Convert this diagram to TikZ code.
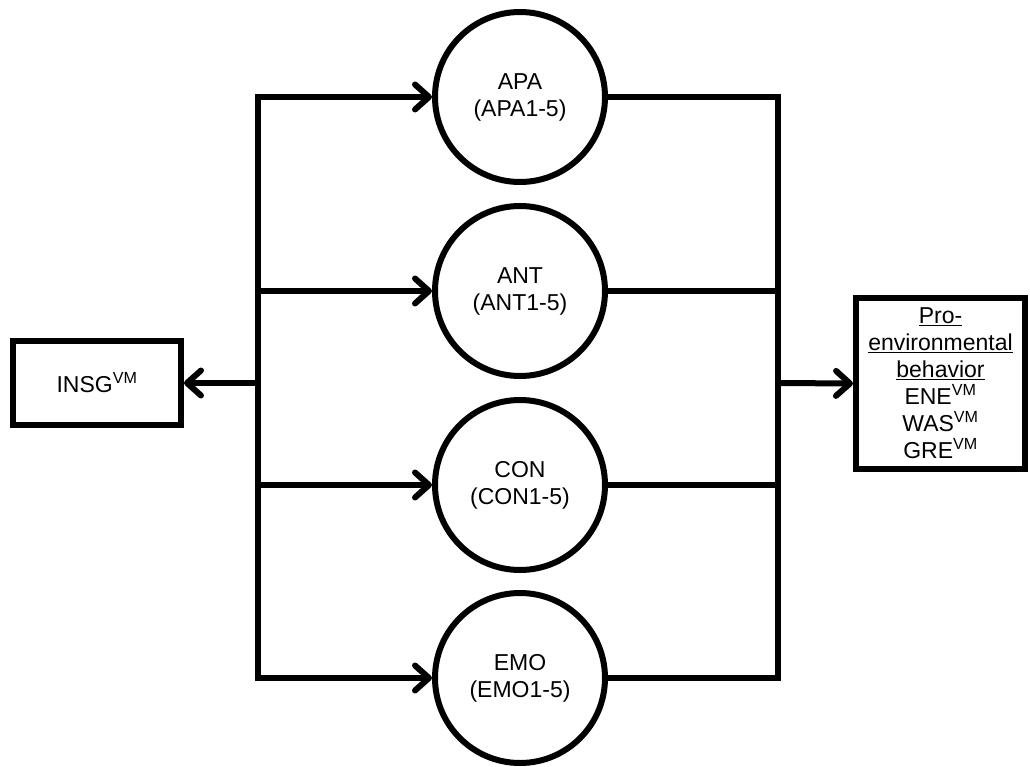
\documentclass[tikz,border=0pt]{standalone}
\usepackage{fontspec}
\setmainfont{Liberation Sans}
\usetikzlibrary{arrows.meta}
\begin{document}
\begin{tikzpicture}[x=1pt,y=-1pt,
  every node/.style={font=\fontsize{23}{27}\selectfont, align=center},
  construct/.style={draw, circle, line width=6pt, minimum size=170pt, inner sep=0pt},
  box/.style={draw, rectangle, line width=6pt, inner sep=0pt},
  conn/.style={line width=6pt},
  arr/.style={line width=6pt, -{Straight Barb[length=14pt,width=25pt,line cap=round,line join=round]}}
]
\useasboundingbox (0,0) rectangle (1030,767);
\node[construct] (apa) at (520,97) {APA\\(APA1-5)};
\node[construct] (ant) at (520,291) {ANT\\(ANT1-5)};
\node[construct] (con) at (520,485) {CON\\(CON1-5)};
\node[construct] (emo) at (520,678) {EMO\\(EMO1-5)};
\node[box, minimum width=168pt, minimum height=84pt] (insg) at (97,383) {INSG\textsuperscript{VM}};
\node[box, minimum width=169pt, minimum height=171pt] (peb) at (940.5,383.5)
  {\underline{Pro-}\\\underline{environmental}\\\underline{behavior}\\ENE\textsuperscript{VM}\\WAS\textsuperscript{VM}\\GRE\textsuperscript{VM}};
% left bus
\coordinate (l1) at (258,97);
\coordinate (l2) at (258,291);
\coordinate (l3) at (258,485);
\coordinate (l4) at (258,678);
\coordinate (lm) at (258,383);
\draw[conn, line cap=rect] (l1) -- (l4);
\draw[arr] (l1) -- (apa.west);
\draw[arr] (l2) -- (ant.west);
\draw[arr] (l3) -- (con.west);
\draw[arr] (l4) -- (emo.west);
\draw[arr] (lm) -- (insg.east);
% right bus
\coordinate (r1) at (778,97);
\coordinate (r2) at (778,291);
\coordinate (r3) at (778,485);
\coordinate (r4) at (778,678);
\coordinate (rm) at (778,383);
\draw[conn, line join=miter] (apa.east) -- (r1) -- (r4) -- (emo.east);
\draw[conn] (ant.east) -- (r2);
\draw[conn] (con.east) -- (r3);
\draw[arr] (rm) -- (peb.west);
\end{tikzpicture}
\end{document}
